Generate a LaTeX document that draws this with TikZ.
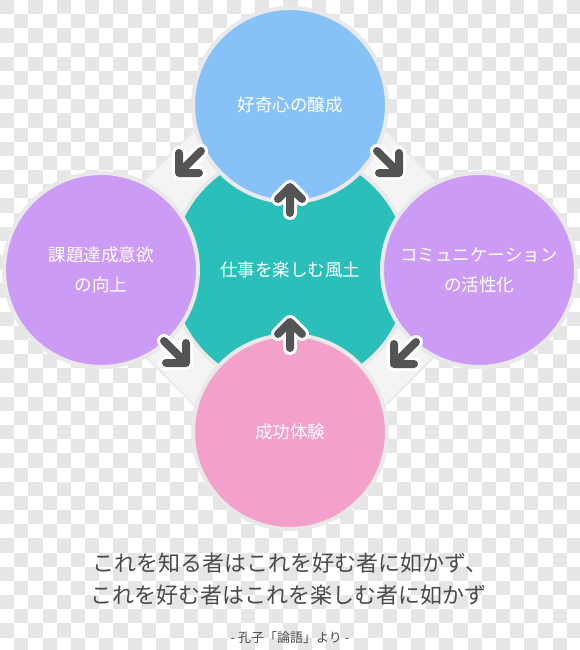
\documentclass[tikz,border=0pt]{standalone}
\usepackage{fontspec}
\newfontfamily\jp{Noto Sans CJK JP}
\definecolor{cblue}{HTML}{86C2F7}
\definecolor{cpurple}{HTML}{CB9BF6}
\definecolor{cteal}{HTML}{2ABFB8}
\definecolor{cpink}{HTML}{F3A0CA}
\definecolor{arrgray}{HTML}{545456}
\definecolor{halo}{HTML}{E9E9E9}
\definecolor{checkgray}{HTML}{E6E6E6}
\definecolor{dia}{HTML}{F4F4F4}
\definecolor{quote}{HTML}{4A4A4A}
\tikzset{
  outer/.style={circle, minimum size=194pt, inner sep=0pt, draw=halo, line width=4pt,
    font=\jp\fontsize{17.5}{30}\selectfont, text=white, align=center},
  corecirc/.style={circle, minimum size=240pt, inner sep=0pt, draw=halo, line width=4pt,
    fill=cteal, font=\jp\fontsize{17.5}{30}\selectfont, text=white, align=center},
  arrowbg/.style={draw=white, line width=14pt, line cap=round, line join=round},
  arrowfg/.style={draw=arrgray, line width=8pt, line cap=round, line join=round},
  quoteline/.style={font=\jp\fontsize{22}{26}\selectfont, text=quote, inner sep=0pt},
  source/.style={font=\jp\fontsize{13}{16}\selectfont, text=quote, inner sep=0pt},
  cell/.style={fill=checkgray, draw=none}
}
\newcommand\myarrow[4]{%
  \draw[arrowbg] #1 -- #2 #3 -- #2 -- #4;
  \draw[arrowfg] #1 -- #2 #3 -- #2 -- #4;}
\begin{document}
\begin{tikzpicture}[x=1pt,y=-1pt]
\useasboundingbox (0,0) rectangle (580,650);
\fill[white] (0,0) rectangle (580,650);
% checkered background
\begin{scope}
\clip (0,0) rectangle (580,650);
\foreach \i in {0,2,...,40}{%
  \foreach \j in {0,2,...,46}{%
    \path[cell] (14.17*\i,14.17*\j) rectangle ++(14.17,14.17);
    \path[cell] (14.17*\i+14.17,14.17*\j+14.17) rectangle ++(14.17,14.17);
  }}
\end{scope}
% light diamond behind circles
\fill[dia, draw=halo, line width=1.5pt, rounded corners=20pt]
  (290,35) -- (523,268) -- (290,501) -- (57,268) -- cycle;
% circles
\node[corecirc] (core) at (290,270) {仕事を楽しむ風土};
\node[outer, fill=cblue] (curio) at (290,105) {好奇心の醸成};
\node[outer, fill=cpurple] (goal) at (101,270) {課題達成意欲\\の向上};
\node[outer, fill=cpurple] (comm) at (479,270) {コミュニケーション\\の活性化};
\node[outer, fill=cpink] (succ) at (290,432) {成功体験};
% arrows
\myarrow{(201,151)}{(179,173)}{(179,153)}{(199,173)}
\myarrow{(377,151)}{(399,173)}{(399,153)}{(379,173)}
\myarrow{(164,341)}{(186,363)}{(186,343)}{(166,363)}
\myarrow{(416,342)}{(394,364)}{(394,344)}{(414,364)}
\myarrow{(290,213)}{(290,187)}{(278,199)}{(302,199)}
\myarrow{(290,348)}{(290,322)}{(278,334)}{(302,334)}
% quote
\node[quoteline] (q1) at (290,563) {これを知る者はこれを好む者に如かず、};
\node[quoteline] (q2) at (288,595) {これを好む者はこれを楽しむ者に如かず};
\node[source] (src) at (290,638) {- 孔子「論語」より -};
\end{tikzpicture}
\end{document}
